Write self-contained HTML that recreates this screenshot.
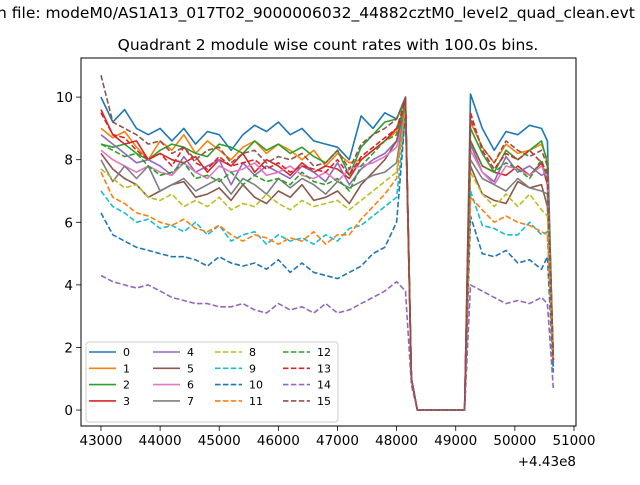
<!DOCTYPE html>
<html><head><meta charset="utf-8"><style>
body{margin:0;background:#fff;width:640px;height:480px;overflow:hidden}
svg{font-family:"DejaVu Sans","Liberation Sans",sans-serif}
</style></head><body>
<svg id="chart" width="640" height="480">
<text x="-3" y="18" font-size="15.5" fill="#000">n file: modeM0/AS1A13_017T02_9000006032_44882cztM0_level2_quad_clean.evt</text>
<text x="328" y="50" font-size="15.5" text-anchor="middle" fill="#000">Quadrant 2 module wise count rates with 100.0s bins.</text>
<g id="plot"></g>
<rect x="81" y="58" width="495" height="368" fill="none" stroke="#000" stroke-width="1"/>
<g id="ticks"></g>
<text x="576" y="466" font-size="13.5" text-anchor="end">+4.43e8</text>
<g id="legend"></g>
</svg>
<script>
const xsTime=[43000,43200,43400,43600,43800,44000,44200,44400,44600,44800,45000,45200,45400,45600,45800,46000,46200,46400,46600,46800,47000,47200,47400,47600,47800,48000,48150,48250,48350,49150,49250,49450,49650,49850,50050,50250,50450,50550,50650];
const s0=[10.0,9.2,9.6,9.0,8.8,9.0,8.6,9.0,8.5,8.9,8.8,8.3,8.8,9.1,8.9,9.2,8.8,9.0,8.6,8.5,8.4,8.0,9.4,9.0,9.5,9.3,10.0,1,0,0,10.1,9.0,8.3,8.9,8.8,9.1,9.0,8.6,1.5];
const s1=[9.0,8.7,8.9,8.4,8.0,8.6,8.3,8.8,8.2,8.6,8.3,8.0,8.4,8.6,8.2,8.5,8.3,8.0,8.3,7.8,8.2,7.9,8.0,8.3,8.6,8.9,9.8,1,0,0,9.2,8.4,7.9,8.5,8.2,8.3,8.5,8.0,1.6];
const s2=[8.5,8.4,8.5,8.2,8.0,8.3,8.5,8.4,8.2,8.1,8.5,8.4,8.2,8.6,8.3,8.5,8.2,8.4,8.1,7.9,8.3,7.5,8.4,8.8,9.2,9.3,9.9,1,0,0,9.0,8.2,7.6,8.3,8.0,8.3,8.6,7.9,1.7];
const s3=[9.6,8.8,8.5,8.6,8.0,8.2,8.0,7.9,8.1,7.6,8.0,7.8,8.2,7.6,8.0,7.8,7.5,7.9,7.6,7.8,7.7,7.4,8.0,8.3,8.6,9.0,9.7,1,0,0,8.6,7.8,7.6,7.5,7.8,7.5,7.9,7.2,1.6];
const s4=[8.8,8.5,8.2,7.9,8.0,7.8,7.5,8.1,7.6,7.8,8.0,7.2,7.9,7.5,7.8,7.6,7.4,7.8,7.6,7.3,7.9,7.2,7.7,8.0,8.2,8.6,9.6,1,0,0,8.5,7.6,7.3,8.1,7.6,7.8,7.5,7.6,1.5];
const s5=[8.2,7.7,7.4,7.2,6.8,7.0,7.2,7.3,6.8,6.9,7.1,6.7,7.2,6.8,6.6,7.0,6.8,7.2,6.7,6.8,7.0,6.6,7.2,7.6,8.0,8.6,9.9,1,0,0,7.8,6.9,6.7,6.6,7.3,7.1,7.2,6.5,1.6];
const s6=[8.3,8.0,7.8,7.6,7.8,7.6,7.5,7.9,7.6,7.4,7.8,7.6,7.7,7.9,7.5,7.6,7.8,7.5,7.4,7.6,7.3,7.7,7.8,7.9,8.1,8.4,9.5,1,0,0,8.3,7.6,7.2,7.8,7.7,7.5,7.8,7.4,1.4];
const s7=[8.0,7.3,7.8,7.4,7.8,7.0,7.2,7.4,7.0,7.2,7.4,6.9,7.4,7.2,6.9,7.4,7.1,7.4,7.2,6.9,7.3,7.1,7.3,7.5,7.6,7.9,9.8,1,0,0,8.0,7.4,7.2,7.0,7.4,7.1,7.0,6.9,1.5];
const s8=[7.7,7.4,7.1,7.2,6.8,6.7,6.9,6.5,6.7,6.5,6.8,6.4,6.6,6.5,6.9,6.6,6.4,6.7,6.5,6.6,6.7,6.4,6.7,7.0,7.3,7.6,9.6,1,0,0,7.6,6.9,6.5,6.9,6.5,6.9,6.4,6.2,1.6];
const s9=[7.0,6.5,6.3,6.0,6.1,5.8,5.9,5.7,6.0,5.6,5.9,5.4,5.6,5.7,5.3,5.6,5.4,5.5,5.3,5.6,5.4,5.8,5.9,6.2,6.5,6.8,9.4,1,0,0,7.0,5.9,5.8,5.6,5.6,6.0,5.6,5.7,1.3];
const s10=[6.3,5.6,5.4,5.2,5.1,5.0,4.9,4.9,4.8,4.6,4.9,4.7,4.6,4.7,4.5,4.8,4.4,4.7,4.4,4.3,4.2,4.4,4.6,5.0,5.2,6.0,9.5,1,0,0,6.2,5.0,4.9,5.1,4.7,4.8,4.5,4.9,1.2];
const s11=[7.6,6.8,6.6,6.3,6.2,6.0,5.9,6.1,5.8,5.7,5.9,5.6,5.4,5.6,5.5,5.3,5.5,5.4,5.7,5.3,5.6,5.6,6.1,6.5,6.9,7.4,9.7,1,0,0,6.8,6.4,6.0,6.2,6.0,5.9,5.7,5.6,1.5];
const s12=[8.5,8.3,8.1,8.2,7.8,7.5,7.6,7.9,7.4,7.5,7.3,7.6,7.2,7.5,7.3,7.4,7.2,7.6,7.3,7.2,7.4,7.0,7.8,8.2,8.6,8.8,9.8,1,0,0,8.6,7.8,7.6,7.9,7.7,7.4,8.0,7.4,1.6];
const s13=[9.5,8.8,8.7,8.3,8.0,8.2,7.8,8.4,7.9,7.7,8.1,7.8,7.9,8.0,7.7,7.9,7.6,7.8,7.7,7.6,8.0,7.5,8.1,8.4,8.7,9.0,9.9,1,0,0,9.5,8.3,7.7,8.2,8.0,8.3,7.9,7.6,1.6];
const s14=[4.3,4.1,4.0,3.9,4.0,3.8,3.6,3.5,3.4,3.4,3.3,3.3,3.4,3.2,3.1,3.4,3.2,3.3,3.1,3.4,3.1,3.2,3.4,3.6,3.8,4.1,3.8,0.8,0,0,4.0,3.8,3.6,3.4,3.5,3.4,3.6,3.4,0.7];
const s15=[10.7,9.2,9.0,8.8,8.5,8.6,8.2,8.4,8.0,8.3,8.4,7.9,8.2,8.3,7.9,8.1,8.0,8.2,7.8,7.9,8.3,7.7,8.5,8.8,9.0,9.3,10.0,1,0,0,9.3,8.4,7.9,8.6,8.3,8.1,8.3,7.8,1.7];
const seriesLabels=["0","1","2","3","4","5","6","7","8","9","10","11","12","13","14","15"];
const xTicks=[43000,44000,45000,46000,47000,48000,49000,50000,51000];
const yTicks=[0,2,4,6,8,10];

const allSeries=[s0,s1,s2,s3,s4,s5,s6,s7,s8,s9,s10,s11,s12,s13,s14,s15];
const colors=["#1f77b4","#ff7f0e","#2ca02c","#d62728","#9467bd","#8c564b","#e377c2","#7f7f7f","#bcbd22","#17becf"];
const NS="http://www.w3.org/2000/svg";
const L=81,R=576,T=58,B=426,XMIN=42662,XMAX=51034,YMIN=-0.51,YMAX=11.25;
const xs=v=>L+(v-XMIN)/(XMAX-XMIN)*(R-L);
const ys=v=>B-(v-YMIN)/(YMAX-YMIN)*(B-T);
function mk(tag,attrs,parent){const e=document.createElementNS(NS,tag);for(const k in attrs)e.setAttribute(k,attrs[k]);parent.appendChild(e);return e;}
const plot=document.getElementById('plot');
const cp=mk('clipPath',{id:'cp'},plot);mk('rect',{x:L,y:T,width:R-L,height:B-T},cp);
const lg=mk('g',{'clip-path':'url(#cp)'},plot);
allSeries.forEach((s,i)=>{
  const d=s.map((v,j)=>(j?'L':'M')+xs(xsTime[j]).toFixed(1)+','+ys(v).toFixed(1)).join(' ');
  const p=mk('path',{d:d,fill:'none',stroke:colors[i%10],'stroke-width':1.6,'stroke-linejoin':'round'},lg);
  if(i>=8)p.setAttribute('stroke-dasharray','5.5,2.4');
  
  
});
const tk=document.getElementById('ticks');
xTicks.forEach(t=>{
  const x=xs(t);
  const l=mk('line',{x1:x,x2:x,y1:B,y2:B+4.9,stroke:'#000','stroke-width':0.8},tk);
  
  
  const tx=mk('text',{x:x,y:B+19,'font-size':13.5,'text-anchor':'middle'},tk);
  tx.textContent=t;
  
  
});
yTicks.forEach(t=>{
  const y=ys(t);
  const l=mk('line',{x1:L-4.9,x2:L,y1:y,y2:y,stroke:'#000','stroke-width':0.8},tk);
  
  
  const tx=mk('text',{x:L-8,y:y+5,'font-size':13.5,'text-anchor':'end'},tk);
  tx.textContent=t;
  
  
});
const leg=document.getElementById('legend');
const box=mk('rect',{x:86,y:342,width:252,height:80,rx:3,fill:'#fff','fill-opacity':0.8,stroke:'#ccc','stroke-width':1},leg);


const colX=[89,153,215,283];
seriesLabels.forEach((lab,i)=>{
  const c=Math.floor(i/4),r=i%4,x=colX[c],y=352+r*16.3;
  const l=mk('line',{x1:x,x2:x+27,y1:y,y2:y,stroke:colors[i%10],'stroke-width':1.6},leg);
  if(i>=8)l.setAttribute('stroke-dasharray','5.5,2.4');
  
  
  const t=mk('text',{x:x+34,y:y+4,'font-size':11},leg);
  t.textContent=lab;
  
  
});
</script>
</body></html>
